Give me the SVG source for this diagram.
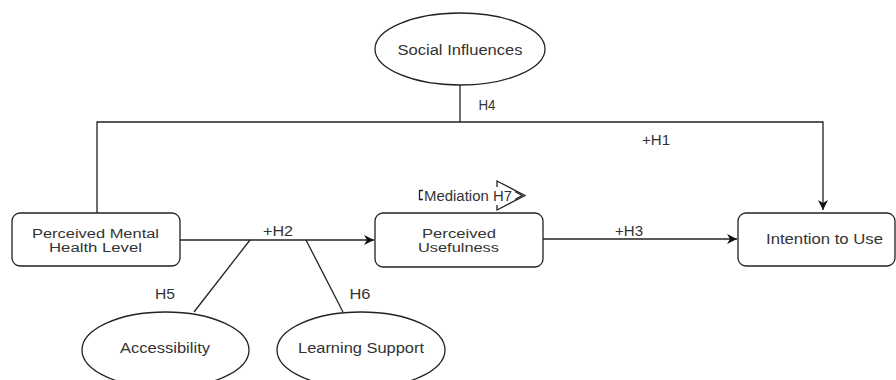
<svg xmlns="http://www.w3.org/2000/svg" width="896" height="380" viewBox="0 0 896 380">
<style>
.box{fill:#fff;stroke:#222;stroke-width:1.3}
.ln{fill:none;stroke:#222;stroke-width:1.3}
text{font-family:"Liberation Sans",Arial,sans-serif;font-size:14px;fill:#333;text-anchor:middle}
text.two{font-size:12.5px}
</style>
<defs>
<marker id="ah" markerWidth="12" markerHeight="10" refX="10" refY="5" orient="auto" markerUnits="userSpaceOnUse">
<path d="M0,0 L10,5 L0,10 L3,5 Z" fill="#111"/>
</marker>
</defs>
<rect width="896" height="380" fill="#fff"/>
<g id="connectors">
<path class="ln" d="M460,85 V122"/>
<path class="ln" d="M97,213 V122 H823 V210" marker-end="url(#ah)"/>
<path class="ln" d="M180,240 H374" marker-end="url(#ah)"/>
<path class="ln" d="M543,239 H737" marker-end="url(#ah)"/>
<path class="ln" d="M250,240 L194,312"/>
<path class="ln" d="M306,240 L343,312"/>
</g>
<g id="labels">
<text x="487" y="110" textLength="17" lengthAdjust="spacingAndGlyphs">H4</text>
<text x="656" y="145" textLength="28" lengthAdjust="spacingAndGlyphs">+H1</text>
<text x="278" y="236" textLength="30" lengthAdjust="spacingAndGlyphs">+H2</text>
<text x="629" y="236" textLength="28" lengthAdjust="spacingAndGlyphs">+H3</text>
<text x="165" y="299" textLength="20" lengthAdjust="spacingAndGlyphs">H5</text>
<text x="360" y="299" textLength="21" lengthAdjust="spacingAndGlyphs">H6</text>
<g id="mediation">
<path class="ln" stroke-width="1" d="M423,190.5 H419.5 V199.5 H423"/>
<text x="468" y="201" textLength="88" lengthAdjust="spacingAndGlyphs">Mediation H7</text>
<path class="ln" stroke-width="1" d="M497,187 V181 L525,195.5 L497,210 V205"/>
<path class="ln" stroke-width="1.2" d="M515,191.5 L522,195.5 L515,199.5"/>
</g>
</g>
<g id="social-influences">
<ellipse class="box" cx="460" cy="49" rx="85" ry="36"/>
<text x="460" y="55" textLength="125" lengthAdjust="spacingAndGlyphs">Social Influences</text>
</g>
<g id="perceived-mental-health-level">
<rect class="box" x="12" y="213" width="168" height="53" rx="8"/>
<text class="two" x="95.5" y="237.5" textLength="127" lengthAdjust="spacingAndGlyphs">Perceived Mental</text>
<text class="two" x="95.5" y="251.5" textLength="93" lengthAdjust="spacingAndGlyphs">Health Level</text>
</g>
<g id="perceived-usefulness">
<rect class="box" x="375" y="213" width="168" height="54" rx="8"/>
<text class="two" x="459" y="237.5" textLength="74" lengthAdjust="spacingAndGlyphs">Perceived</text>
<text class="two" x="458.5" y="252" textLength="81" lengthAdjust="spacingAndGlyphs">Usefulness</text>
</g>
<g id="intention-to-use">
<rect class="box" x="738" y="213" width="157" height="53" rx="8"/>
<text x="824.5" y="244" textLength="117" lengthAdjust="spacingAndGlyphs">Intention to Use</text>
</g>
<g id="accessibility">
<ellipse class="box" cx="165.5" cy="350" rx="83.5" ry="38"/>
<text x="165" y="353" textLength="90" lengthAdjust="spacingAndGlyphs">Accessibility</text>
</g>
<g id="learning-support">
<ellipse class="box" cx="361" cy="350" rx="84" ry="38"/>
<text x="361" y="353" textLength="126" lengthAdjust="spacingAndGlyphs">Learning Support</text>
</g>
</svg>
